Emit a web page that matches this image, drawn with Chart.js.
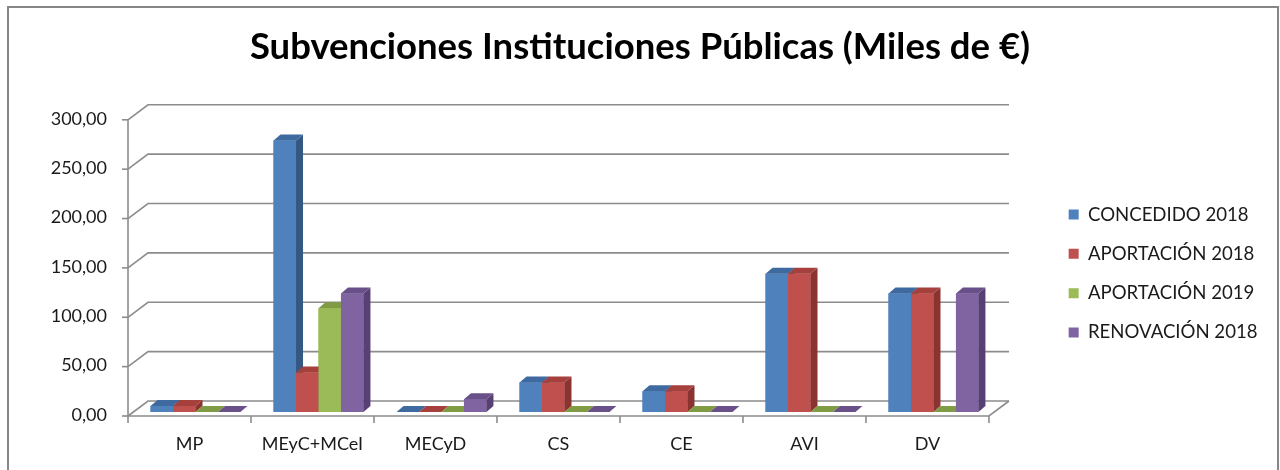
<!DOCTYPE html>
<html>
<head>
<meta charset="utf-8">
<script src="https://cdn.jsdelivr.net/npm/chart.js@4/dist/chart.umd.min.js"></script>
<style>
  html, body { margin: 0; padding: 0; background: #fff; }
  #wrap { width: 1280px; height: 470px; position: relative; }
</style>
</head>
<body>
<div id="wrap"><canvas id="c" width="1280" height="470"></canvas></div>
<script>
// ---- data ----
const categories = ['MP', 'MEyC+MCeI', 'MECyD', 'CS', 'CE', 'AVI', 'DV'];
const seriesNames = ['CONCEDIDO 2018', 'APORTACIÓN 2018', 'APORTACIÓN 2019', 'RENOVACIÓN 2018'];
const concedido2018 = [6, 275, 0, 30, 21, 140, 120];
const aportacion2018 = [6, 40, 0, 30, 21, 140, 120];
const aportacion2019 = [0, 105, 0, 0, 0, 0, 0];
const renovacion2018 = [0, 120, 13, 0, 0, 0, 120];
const yTicks = [0, 50, 100, 150, 200, 250, 300];
const titleText = 'Subvenciones Instituciones Públicas (Miles de €)';

// ---- styles ----
const fronts = ['#4F81BD', '#C0504D', '#9BBB59', '#8064A2'];
const tops   = ['#3F6A9F', '#A6403D', '#7F9C45', '#6A5089'];
const sides  = ['#345784', '#8A3330', '#6A843A', '#574073'];
const FONT = 'Lato';
const DEPTH_X = 7, DEPTH_Y = 6;      // bar depth
const BACK_X = 14, BACK_Y = 11;      // back wall offset
const FRONT_X = -6, FRONT_Y = 4;     // front edge offset
const GRID = '#8c8c8c';

const seriesValues = [concedido2018, aportacion2018, aportacion2019, renovacion2018];

const wall3d = {
  id: 'wall3d',
  beforeDatasetsDraw(chart) {
    const { ctx, chartArea: a, scales: { y } } = chart;
    ctx.save();
    ctx.strokeStyle = GRID;
    ctx.lineWidth = 1.6;
    yTicks.forEach(v => {
      const py = y.getPixelForValue(v);
      ctx.beginPath();
      ctx.moveTo(a.left + FRONT_X, py + FRONT_Y);
      ctx.lineTo(a.left + BACK_X, py - BACK_Y);
      ctx.lineTo(a.right + BACK_X, py - BACK_Y);
      ctx.stroke();
      ctx.beginPath();
      ctx.moveTo(a.left + FRONT_X - 6, py + FRONT_Y);
      ctx.lineTo(a.left + FRONT_X, py + FRONT_Y);
      ctx.stroke();
    });
    const y0 = y.getPixelForValue(0), yTop = y.getPixelForValue(300);
    ctx.beginPath();
    ctx.moveTo(a.left + FRONT_X, yTop + FRONT_Y);
    ctx.lineTo(a.left + FRONT_X, y0 + FRONT_Y);
    ctx.stroke();
    ctx.beginPath();
    ctx.moveTo(a.left + FRONT_X, y0 + FRONT_Y);
    ctx.lineTo(a.right + FRONT_X, y0 + FRONT_Y);
    ctx.lineTo(a.right + BACK_X, y0 - BACK_Y);
    ctx.stroke();
    const n = categories.length;
    for (let k = 0; k <= n; k++) {
      const px = a.left + (a.right - a.left) * k / n + FRONT_X;
      ctx.beginPath();
      ctx.moveTo(px, y0 + FRONT_Y);
      ctx.lineTo(px, y0 + FRONT_Y + 7);
      ctx.stroke();
    }
    ctx.restore();
  },
  afterDatasetsDraw(chart) {
    const { ctx } = chart;
    ctx.save();
    chart.data.datasets.forEach((ds, i) => {
      const meta = chart.getDatasetMeta(i);
      meta.data.forEach(el => {
        const l = el.x - el.width / 2, r = el.x + el.width / 2;
        const t = el.y, b = el.base;
        el.draw(ctx);
        ctx.fillStyle = sides[i];
        ctx.beginPath();
        ctx.moveTo(r, t); ctx.lineTo(r + DEPTH_X, t - DEPTH_Y);
        ctx.lineTo(r + DEPTH_X, b - DEPTH_Y); ctx.lineTo(r, b);
        ctx.closePath(); ctx.fill();
        ctx.fillStyle = tops[i];
        ctx.beginPath();
        ctx.moveTo(l, t); ctx.lineTo(r, t);
        ctx.lineTo(r + DEPTH_X, t - DEPTH_Y); ctx.lineTo(l + DEPTH_X, t - DEPTH_Y);
        ctx.closePath(); ctx.fill();
      });
    });
    ctx.restore();
  },
  afterDraw(chart) {
    const { ctx } = chart;
    ctx.save();
    ctx.strokeStyle = '#868686';
    ctx.lineWidth = 2;
    ctx.strokeRect(8, 7, 1270, 480);
    ctx.restore();
  }
};

new Chart(document.getElementById('c'), {
  type: 'bar',
  data: {
    labels: categories,
    datasets: seriesValues.map((vals, i) => ({
      label: seriesNames[i],
      data: vals,
      backgroundColor: fronts[i],
      borderWidth: 0,
      categoryPercentage: 0.731,
      barPercentage: 1.0
    }))
  },
  options: {
    responsive: false,
    animation: false,
    devicePixelRatio: 1,
    layout: { padding: { left: 12.5, right: 12.5, top: 0, bottom: 0 } },
    plugins: {
      title: {
        display: true,
        text: titleText,
        color: '#000',
        font: { family: FONT, size: 36.5, weight: 'bold' },
        padding: { top: 25, bottom: 47 }
      },
      legend: {
        position: 'right',
        align: 'center',
        title: { display: true, text: '', font: { size: 10 }, padding: { top: 65, bottom: 0 } },
        labels: {
          color: '#1a1a1a',
          font: { family: FONT, size: 18.6 },
          boxWidth: 10,
          boxHeight: 10,
          padding: 20.7,
          sort: (a, b) => a.datasetIndex - b.datasetIndex
        }
      },
      tooltip: { enabled: false }
    },
    scales: {
      x: {
        grid: { display: false, drawTicks: false },
        border: { display: false },
        ticks: {
          color: '#1a1a1a',
          font: { family: FONT, size: 18 },
          padding: 21,
          labelOffset: -6,
          maxRotation: 0
        },
        afterFit: s => { s.height = 58; }
      },
      y: {
        min: 0, max: 300,
        grid: { display: false, drawTicks: false },
        border: { display: false },
        ticks: {
          stepSize: 50,
          color: '#1a1a1a',
          font: { family: FONT, size: 18 },
          padding: 27,
          labelOffset: 3,
          callback: v => v.toFixed(2).replace('.', ',')
        },
        afterFit: s => { s.width = 121.5; }
      },
      y2: {
        position: 'right',
        display: false,
        afterFit: s => { s.width = 53; }
      }
    }
  },
  plugins: [wall3d]
});
</script>
</body>
</html>
